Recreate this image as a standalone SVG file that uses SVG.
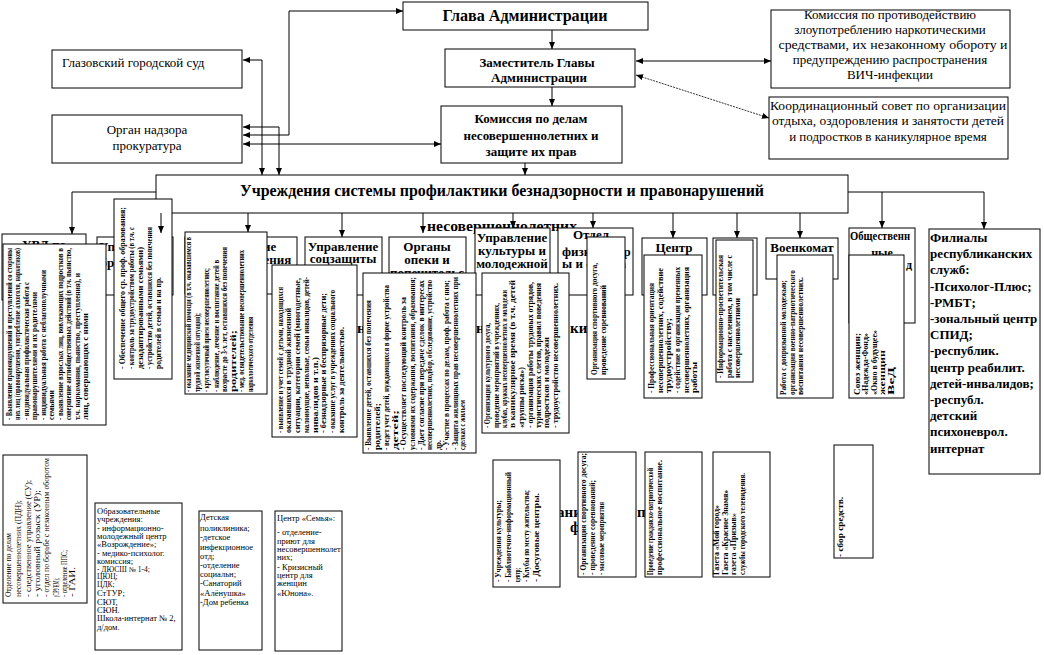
<svg xmlns="http://www.w3.org/2000/svg" width="1044" height="655" viewBox="0 0 1044 655">
<style>
.box{fill:#fff;stroke:#000;stroke-width:1}
text{font-family:"Liberation Serif","Times New Roman",serif;fill:#000}
.b16{font-size:16px;font-weight:bold}
.b15{font-size:15px;font-weight:bold}
.b13{font-size:13px;font-weight:bold}
.b12{font-size:12px;font-weight:bold}
.r13{font-size:13px}
.c{text-anchor:middle}
.rt text{font-size:7.5px;font-weight:bold}
.rr text{font-size:8px}
.sm{font-size:8.5px}
.xs{font-size:7.5px}
.ln{stroke:#000;stroke-width:1;fill:none;marker-end:url(#ah)}
.ln2{stroke:#000;stroke-width:1;fill:none;marker-end:url(#ah);marker-start:url(#ah)}
.dash{stroke:#000;stroke-width:0.8;stroke-dasharray:2 1;fill:none;marker-end:url(#ah);marker-start:url(#ah)}
</style>
<defs>
<marker id="ah" markerUnits="userSpaceOnUse" markerWidth="7" markerHeight="6" refX="7" refY="3" orient="auto-start-reverse"><path d="M0,0 L7,3 L0,6 z" fill="#000"/></marker>
</defs>
<rect x="0" y="0" width="1044" height="655" fill="#fff"/>

<g id="fragments">
<text class="b15" x="427" y="231" textLength="150" lengthAdjust="spacingAndGlyphs">несовершеннолетних</text>
<text class="b15" x="357" y="333">н</text>
<text class="b15" x="476" y="333">н</text>
<text class="b15" x="570" y="333">ки</text>
<text class="b15" x="557" y="517">ани</text>
<text class="b15" x="570" y="532">ф</text>
<text class="b15" x="637" y="517">п</text>
</g>

<g id="glava"><rect class="box" x="403" y="2" width="245" height="28"/><text class="b16 c" x="525" y="21" textLength="165" lengthAdjust="spacingAndGlyphs">Глава Администрации</text></g>
<g id="zam"><rect class="box" x="445" y="49" width="190" height="38"/><text class="b13 c" x="537" y="67">Заместитель Главы</text><text class="b13 c" x="539" y="82">Администрации</text></g>
<g id="kdn"><rect class="box" x="441" y="106" width="181" height="57"/><text class="b13 c" x="531" y="123">Комиссия по делам</text><text class="b13 c" x="531" y="140">несовершеннолетних и</text><text class="b13 c" x="531" y="156">защите их прав</text></g>
<g id="narko"><rect class="box" x="771" y="10" width="239" height="78"/>
<text class="r13 c" x="890" y="19">Комиссия по противодействию</text>
<text class="r13 c" x="890" y="34">злоупотреблению наркотическими</text>
<text class="r13 c" x="893" y="49" textLength="229" lengthAdjust="spacingAndGlyphs">средствами, их незаконному обороту и</text>
<text class="r13 c" x="890" y="64">предупреждению распространения</text>
<text class="r13 c" x="890" y="79">ВИЧ-инфекции</text></g>
<g id="koord"><rect class="box" x="769" y="97" width="239" height="62"/>
<text class="r13 c" x="888" y="110" textLength="236" lengthAdjust="spacingAndGlyphs">Координационный совет по организации</text>
<text class="r13 c" x="888" y="125" textLength="232" lengthAdjust="spacingAndGlyphs">отдыха, оздоровления и занятости детей</text>
<text class="r13 c" x="888" y="141">и подростков в каникулярное время</text></g>
<g id="sud"><rect class="box" x="52" y="50" width="190" height="38"/><text class="r13" x="62" y="67">Глазовский городской суд</text></g>
<g id="prok"><rect class="box" x="52" y="115" width="190" height="48"/><text class="r13 c" x="147" y="134">Орган надзора</text><text class="r13 c" x="147" y="150">прокуратура</text></g>
<g id="uchr"><rect class="box" x="156" y="175" width="692" height="38"/><text class="b16 c" x="502" y="196" textLength="524" lengthAdjust="spacingAndGlyphs">Учреждения системы профилактики безнадзорности и правонарушений</text></g>

<g id="uvd"><rect class="box" x="2" y="234" width="84" height="66"/><text class="b13" x="22" y="249">УВД по</text></g>
<g id="obr"><rect class="box" x="97" y="237" width="76" height="58"/><text class="b13" x="99" y="251">Управление</text><text class="b13" x="94" y="267">образования</text></g>
<g id="zdrav"><rect class="box" x="185" y="237" width="112" height="57"/><text class="b13 c" x="241" y="251">Управление</text><text class="b13 c" x="241" y="264">здравоохранения</text></g>
<g id="soc"><rect class="box" x="305" y="237" width="77" height="58"/><text class="b13 c" x="343" y="251">Управление</text><text class="b13 c" x="343" y="263">соцзащиты</text></g>
<g id="opeka"><rect class="box" x="389" y="237" width="77" height="58"/><text class="b13 c" x="427" y="251">Органы</text><text class="b13 c" x="427" y="264">опеки и</text><text class="b13 c" x="427" y="277">попечительс</text></g>
<g id="kult"><rect class="box" x="475" y="228" width="75" height="67"/><text class="b13 c" x="512" y="242">Управление</text><text class="b13 c" x="512" y="255">культуры и</text><text class="b13 c" x="512" y="268">молодежной</text></g>
<g id="sport"><rect class="box" x="558" y="228" width="75" height="67"/><text class="b13" x="573" y="239">Отдел</text><text class="b13" x="562" y="256">физкультур</text><text class="b13" x="562" y="268">ы и спорта</text></g>
<g id="centr"><rect class="box" x="642" y="238" width="65" height="57"/><text class="b13 c" x="674" y="252">Центр</text></g>
<g id="box9"><rect class="box" x="713" y="238" width="44" height="57"/></g>
<g id="voen"><rect class="box" x="766" y="238" width="72" height="41"/><text class="b13 c" x="802" y="252">Военкомат</text></g>
<g id="obsch"><rect class="box" x="849" y="228" width="66" height="95"/><text class="b12" x="850" y="240" textLength="60" lengthAdjust="spacingAndGlyphs">Общественн</text><text class="b12 c" x="882" y="257">ные</text><text class="b12" x="906" y="269">д</text></g>
<g id="filialy"><rect class="box" x="929" y="229" width="111" height="245"/>
<text class="b13" x="930" y="242">Филиалы</text>
<text class="b13" x="930" y="258">республиканских</text>
<text class="b13" x="930" y="274">служб:</text>
<text class="b13" x="930" y="291">-Психолог-Плюс;</text>
<text class="b13" x="930" y="307">-РМБТ;</text>
<text class="b13" x="930" y="323">-зональный центр</text>
<text class="b13" x="930" y="339">СПИД;</text>
<text class="b13" x="930" y="355">-республик.</text>
<text class="b13" x="930" y="372">центр реабилит.</text>
<text class="b13" x="930" y="388">детей-инвалидов;</text>
<text class="b13" x="930" y="404">-республ.</text>
<text class="b13" x="930" y="420">детский</text>
<text class="b13" x="930" y="436">психоневрол.</text>
<text class="b13" x="930" y="453">интернат</text></g>

<g id="t-uvd"><rect class="box" x="3" y="244" width="103" height="181"/>
<g class="rt" transform="translate(3,420) rotate(-90)">
<text x="0" y="8.5" textLength="172" lengthAdjust="spacingAndGlyphs">- Выявление правонарушений и преступлений со стороны</text>
<text x="0" y="17" textLength="172" lengthAdjust="spacingAndGlyphs">них лиц (правонарушения, употребление алкоголя, наркотиков)</text>
<text x="0" y="25.5" textLength="138" lengthAdjust="spacingAndGlyphs">- индивидуальная профилактическая работа с</text>
<text x="0" y="34" textLength="128" lengthAdjust="spacingAndGlyphs">правонарушителями и их родителями</text>
<text x="0" y="42.5" textLength="150" lengthAdjust="spacingAndGlyphs">- индивидуальная работа с неблагополучными</text>
<text x="0" y="51" textLength="30" lengthAdjust="spacingAndGlyphs">семьями</text>
<text x="0" y="59.5" textLength="172" lengthAdjust="spacingAndGlyphs">- выявление взрослых лиц, вовлекающих подростков в</text>
<text x="0" y="68" textLength="172" lengthAdjust="spacingAndGlyphs">совершение антиобщественных действий (в т.ч. пьянство,</text>
<text x="0" y="76.5" textLength="147" lengthAdjust="spacingAndGlyphs">т.ч. наркомания, пьянство, преступления), и</text>
<text x="0" y="85" textLength="107" lengthAdjust="spacingAndGlyphs">лиц, совершающих с ними</text>
</g></g>

<g id="t-obr"><rect class="box" x="114" y="199" width="58" height="180"/>
<g class="rt" transform="translate(114,369) rotate(-90)">
<text x="0" y="10.5" textLength="162" lengthAdjust="spacingAndGlyphs">- Обеспечение общего ср. проф. образования;</text>
<text x="0" y="19.5" textLength="142" lengthAdjust="spacingAndGlyphs">- контроль за трудоустройством работы (в т.ч. с</text>
<text x="0" y="28.5" textLength="122" lengthAdjust="spacingAndGlyphs">дезадаптированными семьями)</text>
<text x="0" y="37.5" textLength="142" lengthAdjust="spacingAndGlyphs">- устройство детей, оставшихся без попечения</text>
<text x="0" y="46.5" textLength="92" lengthAdjust="spacingAndGlyphs">родителей в семьи и на пр.</text>
</g></g>

<g id="t-zdrav"><rect class="box" x="185" y="232" width="82" height="162"/>
<g class="rt" transform="translate(185,392) rotate(-90)">
<text x="0" y="5.8" textLength="155" lengthAdjust="spacingAndGlyphs">- оказание медицинской помощи (в т.ч. оказавшимся в</text>
<text x="0" y="14.8" textLength="79" lengthAdjust="spacingAndGlyphs">трудной жизненной ситуации);</text>
<text x="0" y="24.2" textLength="124" lengthAdjust="spacingAndGlyphs">- круглосуточный прием несовершеннолетних;</text>
<text x="0" y="33.5" textLength="132" lengthAdjust="spacingAndGlyphs">- наблюдение, лечение и воспитание детей в</text>
<text x="0" y="41.8" textLength="145" lengthAdjust="spacingAndGlyphs">возрасте до 3-х лет, оставшихся без попечения</text>
<text x="0" y="50.8" textLength="62" lengthAdjust="spacingAndGlyphs">родителей;</text>
<text x="0" y="58.5" textLength="142" lengthAdjust="spacingAndGlyphs">- мед. освидетельствование несовершеннолетних</text>
<text x="0" y="67.5" textLength="75" lengthAdjust="spacingAndGlyphs">наркологического отделения</text>
</g></g>

<g id="t-soc"><rect class="box" x="272" y="265" width="85" height="172"/>
<g class="rt" transform="translate(272,433) rotate(-90)">
<text x="0" y="10.5" textLength="146" lengthAdjust="spacingAndGlyphs">- выявление и учет семей с детьми, находящихся</text>
<text x="0" y="18.8" textLength="125" lengthAdjust="spacingAndGlyphs">оказавшихся в трудной жизненной</text>
<text x="0" y="27.8" textLength="155" lengthAdjust="spacingAndGlyphs">ситуации, категории семей (многодетные,</text>
<text x="0" y="36.5" textLength="156" lengthAdjust="spacingAndGlyphs">малоимущие, неполные, семьи инвалидов, детей-</text>
<text x="0" y="45.5" textLength="76" lengthAdjust="spacingAndGlyphs">инвалидов и т.п.)</text>
<text x="0" y="53.8" textLength="140" lengthAdjust="spacingAndGlyphs">- безнадзорные и беспризорные дети;</text>
<text x="0" y="63.2" textLength="143" lengthAdjust="spacingAndGlyphs">- оказание услуг в учреждениях социального</text>
<text x="0" y="71.5" textLength="106" lengthAdjust="spacingAndGlyphs">контроль за деятельностью.</text>
</g></g>

<g id="t-opeka"><rect class="box" x="363" y="273" width="113" height="180"/>
<g class="rt" transform="translate(363,450) rotate(-90)">
<text x="0" y="7.8" textLength="150" lengthAdjust="spacingAndGlyphs">- Выявление детей, оставшихся без попечения</text>
<text x="0" y="16.8" textLength="47" lengthAdjust="spacingAndGlyphs">родителей;</text>
<text x="0" y="26.2" textLength="165" lengthAdjust="spacingAndGlyphs">- ведет учет детей, нуждающихся в форме устройства</text>
<text x="0" y="35.2" textLength="40" lengthAdjust="spacingAndGlyphs">детей;</text>
<text x="0" y="42.8" textLength="153" lengthAdjust="spacingAndGlyphs">- Осуществляет последующий контроль за</text>
<text x="0" y="51.8" textLength="173" lengthAdjust="spacingAndGlyphs">условиями их содержания, воспитания, образования;</text>
<text x="0" y="60.5" textLength="170" lengthAdjust="spacingAndGlyphs">- Дает согласие при передаче сделок в интересах</text>
<text x="0" y="68.8" textLength="170" lengthAdjust="spacingAndGlyphs">несовершеннолетних, подбор, обследование, устройство</text>
<text x="0" y="77.8" textLength="10" lengthAdjust="spacingAndGlyphs">др.</text>
<text x="0" y="85.5" textLength="170" lengthAdjust="spacingAndGlyphs">- Участие в процессах по делам, проф. работа с ним;</text>
<text x="0" y="94.5" textLength="173" lengthAdjust="spacingAndGlyphs">- Защита жилищных прав несовершеннолетних при</text>
<text x="0" y="102.2" textLength="50" lengthAdjust="spacingAndGlyphs">сделках с жильем</text>
</g></g>

<g id="t-kult"><rect class="box" x="482" y="273" width="87" height="160"/>
<g class="rt" transform="translate(482,428) rotate(-90)">
<text x="0" y="8.2" textLength="105" lengthAdjust="spacingAndGlyphs">- Организация культурного досуга,</text>
<text x="0" y="16.5" textLength="125" lengthAdjust="spacingAndGlyphs">проведение мероприятий в учреждениях,</text>
<text x="0" y="24.8" textLength="138" lengthAdjust="spacingAndGlyphs">клубах, кружках несовершеннолетних и молодежи</text>
<text x="0" y="33.2" textLength="148" lengthAdjust="spacingAndGlyphs">в каникулярное время (в т.ч. детей</text>
<text x="0" y="42.2" textLength="61" lengthAdjust="spacingAndGlyphs">«группы риска»)</text>
<text x="0" y="50.5" textLength="146" lengthAdjust="spacingAndGlyphs">- организация работы трудовых отрядов,</text>
<text x="0" y="58.8" textLength="145" lengthAdjust="spacingAndGlyphs">туристических слетов, правил поведения</text>
<text x="0" y="67.2" textLength="91" lengthAdjust="spacingAndGlyphs">подростков и молодежи</text>
<text x="0" y="75.5" textLength="145" lengthAdjust="spacingAndGlyphs">- трудоустройство несовершеннолетних.</text>
</g></g>

<g id="t-sport"><rect class="box" x="587" y="237" width="38" height="142"/>
<g class="rt" transform="translate(587,375) rotate(-90)">
<text x="0" y="9.5" textLength="112" lengthAdjust="spacingAndGlyphs">Организация спортивного досуга,</text>
<text x="0" y="18.8" textLength="90" lengthAdjust="spacingAndGlyphs">проведение соревнований</text>
</g></g>

<g id="t-centr"><rect class="box" x="644" y="255" width="58" height="143"/>
<g class="rt" transform="translate(644,393) rotate(-90)">
<text x="0" y="9.5" textLength="110" lengthAdjust="spacingAndGlyphs">- Профессиональная ориентация</text>
<text x="0" y="18.5" textLength="125" lengthAdjust="spacingAndGlyphs">несовершеннолетних, содействие</text>
<text x="0" y="26.8" textLength="75" lengthAdjust="spacingAndGlyphs">трудоустройству;</text>
<text x="0" y="35.8" textLength="126" lengthAdjust="spacingAndGlyphs">- содействие в организации временных</text>
<text x="0" y="44.5" textLength="126" lengthAdjust="spacingAndGlyphs">несовершеннолетних, организация</text>
<text x="0" y="52.5" textLength="31" lengthAdjust="spacingAndGlyphs">работы</text>
</g></g>

<g id="t-box9"><rect class="box" x="716" y="240" width="37" height="142"/>
<g class="rt" transform="translate(716,378) rotate(-90)">
<text x="0" y="6.5" textLength="123" lengthAdjust="spacingAndGlyphs">- Информационно-просветительская</text>
<text x="0" y="15.8" textLength="123" lengthAdjust="spacingAndGlyphs">работа с населением, в том числе с</text>
<text x="0" y="24.2" textLength="80" lengthAdjust="spacingAndGlyphs">несовершеннолетними</text>
</g></g>

<g id="t-voen"><rect class="box" x="777" y="255" width="56" height="143"/>
<g class="rt" transform="translate(777,395) rotate(-90)">
<text x="0" y="8.8" textLength="115" lengthAdjust="spacingAndGlyphs">Работа с допризывной молодежью;</text>
<text x="0" y="17.8" textLength="125" lengthAdjust="spacingAndGlyphs">организация военно-патриотического</text>
<text x="0" y="26.2" textLength="118" lengthAdjust="spacingAndGlyphs">воспитания несовершеннолетних.</text>
</g></g>

<g id="t-obsch"><rect class="box" x="849" y="255" width="55" height="143"/>
<g class="rt" transform="translate(849,395) rotate(-90)">
<text x="0" y="10.5" textLength="62" lengthAdjust="spacingAndGlyphs">Союз женщин;</text>
<text x="0" y="19" textLength="62" lengthAdjust="spacingAndGlyphs">«Надежда-Фонд»</text>
<text x="0" y="27.5" textLength="65" lengthAdjust="spacingAndGlyphs">«Окно в будущее»</text>
<text x="0" y="36" textLength="45" lengthAdjust="spacingAndGlyphs">женщин</text>
<text x="0" y="44.5" textLength="28" lengthAdjust="spacingAndGlyphs">ВеД</text>
</g></g>

<g id="t-pdn"><rect class="box" x="3" y="455" width="84" height="148"/>
<g class="rr" transform="translate(3,597) rotate(-90)">
<text x="0" y="7.8" textLength="64" lengthAdjust="spacingAndGlyphs">Отделение по делам</text>
<text x="0" y="17.8" textLength="97" lengthAdjust="spacingAndGlyphs">несовершеннолетних (ПДН);</text>
<text x="0" y="27.8" textLength="117" lengthAdjust="spacingAndGlyphs">- следственное управление (СУ);</text>
<text x="0" y="36.8" textLength="107" lengthAdjust="spacingAndGlyphs">- уголовный розыск (УР);</text>
<text x="0" y="46.2" textLength="139" lengthAdjust="spacingAndGlyphs">- отдел по борьбе с незаконным оборотом</text>
<text x="0" y="55.5" textLength="19" lengthAdjust="spacingAndGlyphs">(СРУНМ);</text>
<text x="0" y="63.5" textLength="47" lengthAdjust="spacingAndGlyphs">- отделение ППС;</text>
<text x="0" y="72.2" textLength="30" lengthAdjust="spacingAndGlyphs">- ГАИ.</text>
</g></g>

<g id="obr-uchr"><rect class="box" x="95" y="503" width="87" height="147"/>
<text class="sm" x="97" y="514">Образовательные</text>
<text class="sm" x="97" y="522">учреждения:</text>
<text class="sm" x="97" y="531">- информационно-</text>
<text class="sm" x="97" y="539">молодежный центр</text>
<text class="sm" x="97" y="547">«Возрождение»;</text>
<text class="sm" x="97" y="556">- медико-психолог.</text>
<text class="sm" x="97" y="564">комиссия;</text>
<text class="xs" x="97" y="572">- ДЮСШ № 1-4;</text>
<text class="xs" x="97" y="579">ЦЮЦ;</text>
<text class="xs" x="97" y="587">ЦДК;</text>
<text class="sm" x="97" y="596">СтТУР;</text>
<text class="sm" x="97" y="605">СЮТ,</text>
<text class="sm" x="97" y="613">СЮН.</text>
<text class="sm" x="97" y="621">Школа-интернат № 2,</text>
<text class="sm" x="97" y="630">д/дом.</text></g>

<g id="poliklinika"><rect class="box" x="199" y="511" width="63" height="139"/>
<text class="sm" x="200" y="520">Детская</text>
<text class="sm" x="200" y="531">поликлиника;</text>
<text class="sm" x="200" y="540">-детское</text>
<text class="sm" x="200" y="550">инфекционное</text>
<text class="sm" x="200" y="559">отд;</text>
<text class="sm" x="200" y="568">-отделение</text>
<text class="sm" x="200" y="577">социальн;</text>
<text class="sm" x="200" y="586">-Санаторий</text>
<text class="sm" x="200" y="596">«Алёнушка»</text>
<text class="sm" x="200" y="605">-Дом ребенка</text></g>

<g id="semya"><rect class="box" x="275" y="511" width="67" height="140"/>
<text class="sm" x="277" y="521">Центр «Семья»:</text>
<text class="sm" x="277" y="535">- отделение-</text>
<text class="sm" x="277" y="544">приют для</text>
<text class="sm" x="277" y="552">несовершеннолет</text>
<text class="sm" x="277" y="560">них;</text>
<text class="sm" x="277" y="570">- Кризисный</text>
<text class="sm" x="277" y="578">центр для</text>
<text class="sm" x="277" y="586">женщин</text>
<text class="sm" x="277" y="596">«Юнона».</text></g>

<g id="t-kult2"><rect class="box" x="493" y="460" width="67" height="127"/>
<g class="rt" transform="translate(493,582) rotate(-90)">
<text x="0" y="7.8" textLength="82" lengthAdjust="spacingAndGlyphs">- Учреждения культуры;</text>
<text x="0" y="17.8" textLength="110" lengthAdjust="spacingAndGlyphs">- Библиотечно-информационный</text>
<text x="0" y="27.2" textLength="14" lengthAdjust="spacingAndGlyphs">центр;</text>
<text x="0" y="36.2" textLength="92" lengthAdjust="spacingAndGlyphs">- Клубы по месту жительства;</text>
<text x="0" y="45.5" textLength="89" lengthAdjust="spacingAndGlyphs">- Досуговые центры.</text>
</g></g>

<g id="t-sport2"><rect class="box" x="578" y="452" width="58" height="125"/>
<g class="rt" transform="translate(578,575) rotate(-90)">
<text x="0" y="7.8" textLength="122" lengthAdjust="spacingAndGlyphs">- Организация спортивного досуга;</text>
<text x="0" y="17.2" textLength="95" lengthAdjust="spacingAndGlyphs">- проведение соревнований;</text>
<text x="0" y="26.2" textLength="73" lengthAdjust="spacingAndGlyphs">- массовые мероприятия</text>
</g></g>

<g id="t-patr"><rect class="box" x="645" y="452" width="57" height="125"/>
<g class="rt" transform="translate(645,575) rotate(-90)">
<text x="0" y="7.5" textLength="107" lengthAdjust="spacingAndGlyphs">Проведение гражданско-патриотической</text>
<text x="0" y="16.8" textLength="115" lengthAdjust="spacingAndGlyphs">профессиональное воспитание.</text>
</g></g>

<g id="t-smi"><rect class="box" x="713" y="452" width="57" height="125"/>
<g class="rt" transform="translate(713,575) rotate(-90)">
<text x="0" y="6.2" textLength="70" lengthAdjust="spacingAndGlyphs">Газета «Мой город»</text>
<text x="0" y="14.5" textLength="85" lengthAdjust="spacingAndGlyphs">Газета «Красное Знамя»</text>
<text x="0" y="22.8" textLength="62" lengthAdjust="spacingAndGlyphs">газета «Призыв»</text>
<text x="0" y="31.8" textLength="102" lengthAdjust="spacingAndGlyphs">службы городского телевидения.</text>
</g></g>

<g id="t-sbor"><rect class="box" x="834" y="445" width="39" height="113"/>
<g class="rt" transform="translate(834,557) rotate(-90)">
<text x="0" y="8.5" textLength="60" lengthAdjust="spacingAndGlyphs">- сбор средств.</text>
</g></g>

<g id="connectors">
<path class="ln2" d="M403,11 H289 V135 H243"/>
<path class="ln2" d="M243,60 H262 V175"/>
<path class="ln2" d="M243,127 H279 V175"/>
<path class="ln2" d="M243,144 H441"/>
<path class="ln2" d="M636,61 H771"/>
<path class="dash" d="M636,75 L769,118"/>
<path class="ln" d="M552,30 V49"/>
<path class="ln" d="M552,87 V106"/>
<path class="ln" d="M525,163 V175"/>
<path class="ln" d="M156,192 H72 V234"/>
<path class="ln" d="M161,213 V233"/>
<path class="ln" d="M248,213 V232"/>
<path class="ln" d="M342,213 V237"/>
<path class="ln" d="M423,213 V233"/>
<path class="ln" d="M513,213 V228"/>
<path class="ln" d="M593,213 V228"/>
<path class="ln" d="M673,213 V238"/>
<path class="ln" d="M737,213 V238"/>
<path class="ln" d="M800,213 V238"/>
<path class="ln" d="M848,192 H984 V229"/>
<path class="ln" d="M882,192 V228"/>
</g>
</svg>
